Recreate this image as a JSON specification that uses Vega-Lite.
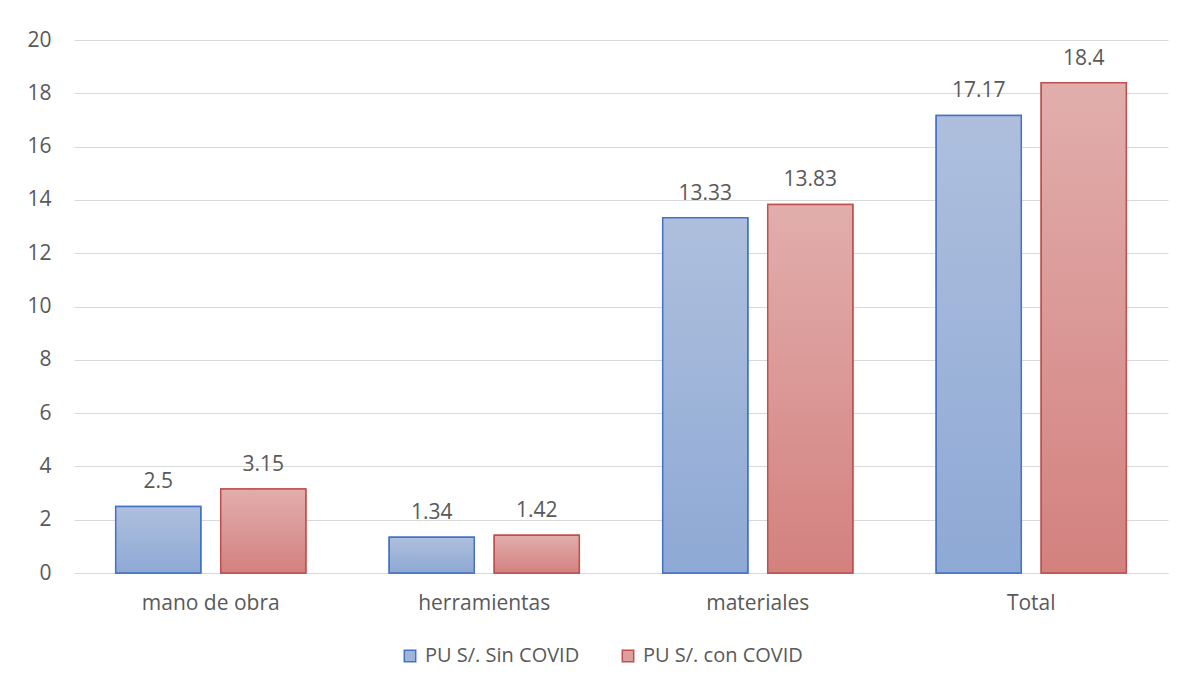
{
  "$schema": "https://vega.github.io/schema/vega-lite/v6.json",
  "width": 1094,
  "height": 533,
  "autosize": "none",
  "padding": {"left": 74, "top": 40, "right": 16, "bottom": 115},
  "background": "white",
  "config": {
    "font": "Open Sans",
    "view": {"stroke": null},
    "axis": {"labelFont": "Open Sans", "labelFontSize": 21, "labelColor": "#595959", "titleFont": "Open Sans"},
    "legend": {"labelFont": "Open Sans", "labelFontSize": 20, "labelColor": "#595959"}
  },
  "data": {
    "values": [
      {"categoria": "mano de obra", "serie": "PU S/. Sin COVID", "valor": 2.5},
      {"categoria": "mano de obra", "serie": "PU S/. con COVID", "valor": 3.15},
      {"categoria": "herramientas", "serie": "PU S/. Sin COVID", "valor": 1.34},
      {"categoria": "herramientas", "serie": "PU S/. con COVID", "valor": 1.42},
      {"categoria": "materiales", "serie": "PU S/. Sin COVID", "valor": 13.33},
      {"categoria": "materiales", "serie": "PU S/. con COVID", "valor": 13.83},
      {"categoria": "Total", "serie": "PU S/. Sin COVID", "valor": 17.17},
      {"categoria": "Total", "serie": "PU S/. con COVID", "valor": 18.4}
    ]
  },
  "encoding": {
    "x": {
      "field": "categoria", "type": "nominal", "sort": null,
      "scale": {"paddingInner": 0.305, "paddingOuter": 0.1525},
      "axis": {"title": null, "labelAngle": 0, "ticks": false, "domain": true, "domainColor": "#d9d9d9", "domainWidth": 1, "labelPadding": 19}
    },
    "xOffset": {
      "field": "serie", "type": "nominal", "sort": ["PU S/. Sin COVID", "PU S/. con COVID"],
      "scale": {"domain": ["PU S/. Sin COVID", "PU S/. con COVID"], "paddingInner": 0.19, "paddingOuter": 0}
    },
    "y": {
      "field": "valor", "type": "quantitative",
      "scale": {"domain": [0, 20], "nice": false},
      "axis": {"title": null, "values": [0, 2, 4, 6, 8, 10, 12, 14, 16, 18, 20], "ticks": false, "domain": false, "gridColor": "#d9d9d9", "gridWidth": 1, "labelPadding": 23}
    }
  },
  "layer": [
    {
      "mark": {"type": "bar", "strokeWidth": 1.5},
      "encoding": {
        "fill": {
          "field": "serie", "type": "nominal", "sort": ["PU S/. Sin COVID", "PU S/. con COVID"],
          "scale": {"domain": ["PU S/. Sin COVID", "PU S/. con COVID"], "range": ["#a0b5da", "#dc9f9d"]},
          "legend": {"title": null, "orient": "none", "legendX": 326, "legendY": 606, "direction": "horizontal", "symbolType": "square", "symbolSize": 130, "symbolStrokeWidth": 1.5, "columnPadding": 38, "labelOffset": 5}
        },
        "stroke": {
          "field": "serie", "type": "nominal", "sort": ["PU S/. Sin COVID", "PU S/. con COVID"],
          "scale": {"domain": ["PU S/. Sin COVID", "PU S/. con COVID"], "range": ["#4472c4", "#c0504d"]},
          "legend": {"title": null, "orient": "none", "legendX": 326, "legendY": 606, "direction": "horizontal", "symbolType": "square", "symbolSize": 130, "symbolStrokeWidth": 1.5, "columnPadding": 38, "labelOffset": 5}
        }
      }
    },
    {
      "transform": [{"filter": "datum.serie === 'PU S/. Sin COVID'"}],
      "mark": {
        "type": "bar", "strokeWidth": 1.5, "stroke": "#4472c4",
        "fill": {"gradient": "linear", "x1": 0, "y1": 0, "x2": 0, "y2": 1, "stops": [{"offset": 0, "color": "#aebfdd"}, {"offset": 1, "color": "#8ea9d5"}]}
      },
      "encoding": {}
    },
    {
      "transform": [{"filter": "datum.serie === 'PU S/. con COVID'"}],
      "mark": {
        "type": "bar", "strokeWidth": 1.5, "stroke": "#c0504d",
        "fill": {"gradient": "linear", "x1": 0, "y1": 0, "x2": 0, "y2": 1, "stops": [{"offset": 0, "color": "#e1aeac"}, {"offset": 1, "color": "#d3817f"}]}
      },
      "encoding": {}
    },
    {
      "mark": {"type": "text", "baseline": "alphabetic", "dy": -18, "fontSize": 21, "color": "#595959", "font": "Open Sans"},
      "encoding": {
        "text": {"field": "valor", "type": "quantitative"}
      }
    }
  ]
}
